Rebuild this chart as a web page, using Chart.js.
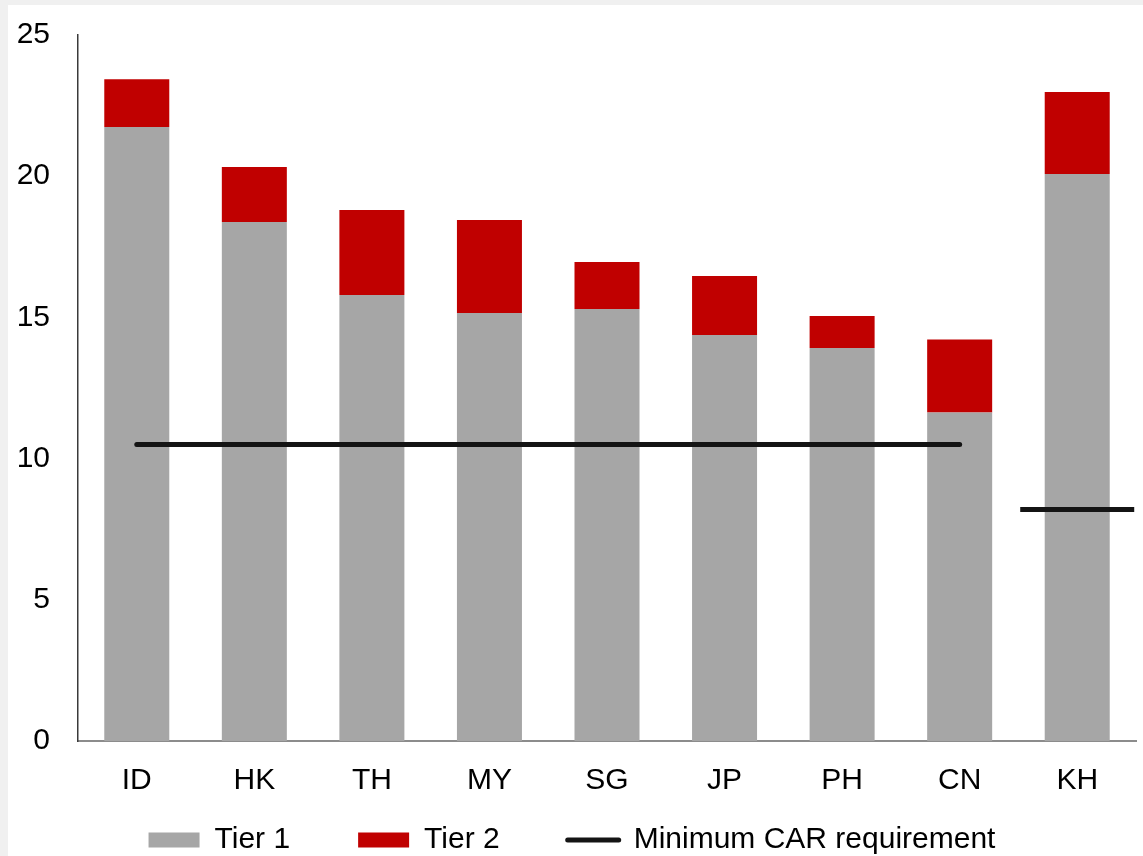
<!DOCTYPE html>
<html>
<head>
<meta charset="utf-8">
<script src="https://cdn.jsdelivr.net/npm/chart.js@4/dist/chart.umd.min.js"></script>
<style>
  html, body { margin: 0; padding: 0; background: #f0f0f0; }
  #wrap { position: absolute; left: 8px; top: 5px; width: 1135px; height: 851px; background: #ffffff; }
</style>
</head>
<body>
<div id="wrap"><canvas id="c"></canvas></div>
<script>
// Capital adequacy by market (%)
const categories = ['ID', 'HK', 'TH', 'MY', 'SG', 'JP', 'PH', 'CN', 'KH'];
const tier1 = [21.74, 18.38, 15.79, 15.16, 15.30, 14.38, 13.92, 11.63, 20.08];
const tier2 = [1.69, 1.95, 3.01, 3.29, 1.66, 2.09, 1.13, 2.59, 2.90];
const minCarRegional = [10.5, 10.5, 10.5, 10.5, 10.5, 10.5, 10.5, 10.5, null];
const minCarKH = [null, null, null, null, null, null, null, null, 8.2];
const yTicks = [0, 5, 10, 15, 20, 25];

const FONT = { family: "'Liberation Sans', Arial, sans-serif", size: 30 };
const GREY = '#a6a6a6';
const RED = '#c00000';
const LINE = '#141414';
const LEGEND_GAP = 68;     // horizontal gap between legend entries
const LEGEND_ROW_TOP = 820; // top of the legend row, canvas px

// Keep the wide item spacing of the legend without the matching tall box,
// then place its single row just under the category labels.
const compactLegend = {
  id: 'compactLegend',
  beforeLayout(chart) {
    const lg = chart.legend;
    if (lg && !lg._compact) {
      const fit = lg.fit.bind(lg);
      lg.fit = function () { fit(); this.height = 55; };
      lg._compact = true;
    }
  },
  afterLayout(chart) {
    const lg = chart.legend;
    if (lg) lg.top = LEGEND_ROW_TOP - LEGEND_GAP;
  }
};

new Chart(document.getElementById('c'), {
  type: 'bar',
  data: {
    labels: categories,
    datasets: [
      { label: 'Tier 1', data: tier1, backgroundColor: GREY, borderWidth: 0, stack: 'car' },
      { label: 'Tier 2', data: tier2, backgroundColor: RED, borderWidth: 0, stack: 'car' },
      {
        type: 'line', label: 'Minimum CAR requirement', data: minCarRegional,
        borderColor: LINE, backgroundColor: LINE, borderWidth: 5, borderCapStyle: 'round',
        pointRadius: 0, pointHoverRadius: 0, spanGaps: false, stack: 'req1', order: -1
      },
      {
        type: 'line', label: 'Minimum CAR requirement (KH)', data: minCarKH,
        showLine: false, pointStyle: 'line', pointRadius: 57, pointHoverRadius: 57,
        pointBorderWidth: 5, pointBorderColor: LINE, borderColor: LINE, stack: 'req2', order: -1
      }
    ]
  },
  plugins: [compactLegend],
  options: {
    responsive: true,
    maintainAspectRatio: false,
    animation: false,
    events: [],
    layout: { autoPadding: false, padding: { top: 30, right: 7, left: 0, bottom: 0 } },
    datasets: { bar: { barPercentage: 0.553, categoryPercentage: 1.0 } },
    scales: {
      x: {
        stacked: true,
        grid: { display: false, drawTicks: false },
        border: { display: true, color: '#8c8c8c', width: 2 },
        ticks: { color: '#000', font: FONT, padding: 22 },
        afterFit: (s) => { s.height = 60; }
      },
      y: {
        stacked: true,
        min: 0, max: 25,
        grid: { display: false, drawTicks: false },
        border: { display: true, color: '#3a3a3a', width: 1.5 },
        afterBuildTicks: (s) => { s.ticks = yTicks.map(v => ({ value: v })); },
        ticks: { color: '#000', font: FONT, padding: 28 },
        afterFit: (s) => { s.width = 70; s.paddingTop = 0; s.paddingBottom = 0; }
      }
    },
    plugins: {
      tooltip: { enabled: false },
      legend: {
        position: 'bottom',
        labels: {
          color: '#000',
          font: FONT,
          usePointStyle: true,
          pointStyleWidth: 51,
          boxHeight: 15,
          padding: LEGEND_GAP,
          sort: (a, b) => a.datasetIndex - b.datasetIndex,
          filter: (item) => item.datasetIndex !== 3,
          generateLabels: (chart) => {
            const items = Chart.defaults.plugins.legend.labels.generateLabels(chart);
            items.forEach((it) => {
              if (it.datasetIndex === 2) {
                it.pointStyle = 'line';
                it.lineCap = 'round';
                it.lineWidth = 5;
                it.strokeStyle = LINE;
              } else {
                it.pointStyle = 'rect';
                it.lineWidth = 0;
              }
            });
            return items;
          }
        }
      }
    }
  }
});
</script>
</body>
</html>
